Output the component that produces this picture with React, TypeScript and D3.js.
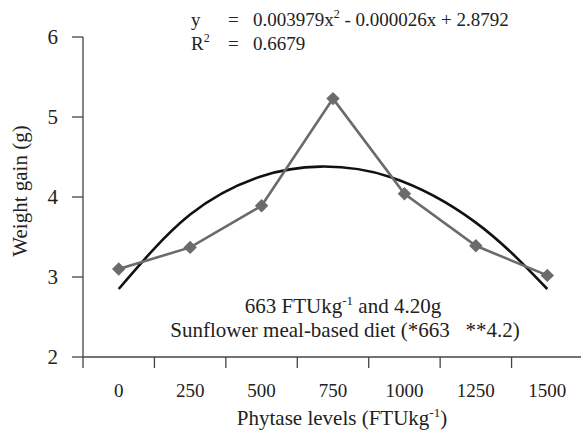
import React from 'react';
import * as d3 from 'd3';

// phytase levels (FTU/kg) and weight gain (g)
const levels = ['0', '250', '500', '750', '1000', '1250', '1500'];
const weightGain = [3.1, 3.37, 3.89, 5.23, 4.04, 3.39, 3.02];

// fitted quadratic trend at FTU positions
const trendX = [0, 250, 500, 705, 950, 1250, 1500];
const trendY = [2.85, 3.78, 4.26, 4.38, 4.25, 3.68, 2.85];

const yTicks = [2, 3, 4, 5, 6];

const W = 581;
const H = 436;
const tf = { fontFamily: "'Liberation Serif'" };

const App = () => {
  const x = d3.scaleBand().domain(levels).range([83, 583]);
  const y = d3.scaleLinear().domain([2, 6]).range([357, 37]);
  const cx = (l: string) => x(l)! + x.bandwidth() / 2;
  // continuous x for the trend line, aligned to band centres
  const xLin = d3.scaleLinear().domain([0, 1500]).range([cx('0'), cx('1500')]);

  const dataLine = d3.line<number>()
    .x((_, i) => cx(levels[i]))
    .y(d => y(d));

  const trendLine = d3.line<number>()
    .x(d => xLin(d))
    .y((_, i) => y(trendY[i]))
    .curve(d3.curveNatural);

  const diamond = d3.symbol().type(d3.symbolDiamond2).size(115)();
  const ticksX = levels.map(l => x(l)!).concat([583]);

  return (
    <svg width={W} height={H} style={{ position: 'absolute', left: 0, top: 0 }}>
      <rect width={W} height={H} fill="#fff" />
      {/* axes */}
      <line x1={83} x2={583} y1={357} y2={357} stroke="#444" strokeWidth={1.3} />
      <line x1={83} x2={83} y1={37} y2={357} stroke="#444" strokeWidth={1.3} />
      {yTicks.map(t => (
        <g key={t}>
          <line x1={72} x2={83} y1={y(t)} y2={y(t)} stroke="#444" strokeWidth={1.3} />
          <text x={58} y={y(t) + 7} fontSize={21} textAnchor="end" fill="#222" style={tf}>{t}</text>
        </g>
      ))}
      {ticksX.map((t, i) => (
        <line key={i} x1={t} x2={t} y1={357} y2={368} stroke="#444" strokeWidth={1.3} />
      ))}
      {levels.map(l => (
        <text key={l} x={cx(l)} y={397} fontSize={19} textAnchor="middle" fill="#222" style={tf}>{l}</text>
      ))}

      {/* trend */}
      <path d={trendLine(trendX) ?? ''} fill="none" stroke="#111" strokeWidth={2.6} />

      {/* data */}
      <path d={dataLine(weightGain) ?? ''} fill="none" stroke="#6b6b6b" strokeWidth={2.6} />
      {weightGain.map((v, i) => (
        <path key={i} d={diamond ?? ''} fill="#6b6b6b"
          transform={`translate(${cx(levels[i])},${y(v)})`} />
      ))}

      {/* titles */}
      <text x={342} y={425} fontSize={21} textAnchor="middle" fill="#222" style={tf}>
        Phytase levels (FTUkg<tspan dy={-8} fontSize={13}>-1</tspan><tspan dy={8}>)</tspan>
      </text>
      <text transform="translate(27,191) rotate(-90)" fontSize={21} textAnchor="middle" fill="#222" style={tf}>Weight gain (g)</text>

      {/* equation */}
      <text x={191} y={26} fontSize={19} fill="#222" style={tf}>y</text>
      <text x={228} y={26} fontSize={19} fill="#222" style={tf}>=</text>
      <text x={253} y={26} fontSize={19} fill="#222" style={tf}>
        0.003979x<tspan dy={-8} fontSize={12}>2</tspan><tspan dy={8}> - 0.000026x + 2.8792</tspan>
      </text>
      <text x={191} y={50} fontSize={19} fill="#222" style={tf}>R<tspan dy={-8} fontSize={12}>2</tspan></text>
      <text x={228} y={50} fontSize={19} fill="#222" style={tf}>=</text>
      <text x={253} y={50} fontSize={19} fill="#222" style={tf}>0.6679</text>

      {/* annotation */}
      <text x={343} y={313} fontSize={21} textAnchor="middle" fill="#222" style={tf}>
        663 FTUkg<tspan dy={-8} fontSize={13}>-1</tspan><tspan dy={8}> and 4.20g</tspan>
      </text>
      <text x={345} y={337} fontSize={21} textAnchor="middle" fill="#222" style={{ ...tf, whiteSpace: 'pre' }}>
        {'Sunflower meal-based diet (*663   **4.2)'}
      </text>
    </svg>
  );
};

export default App;
